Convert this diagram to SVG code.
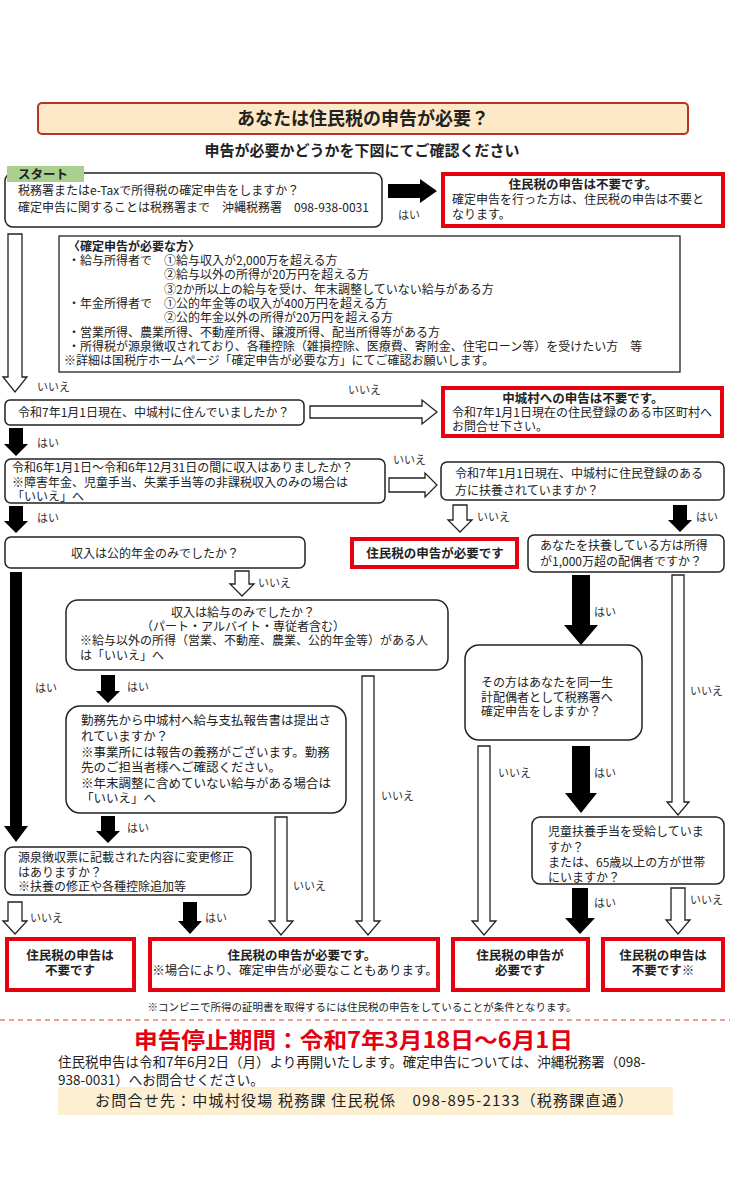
<svg xmlns="http://www.w3.org/2000/svg" width="730" height="1188" viewBox="0 0 730 1188">
<defs>
<style>
text{font-family:"Noto Sans CJK JP","Noto Sans",sans-serif;fill:#222;}
.t{font-size:12px;}
.t2{font-size:12.5px;}
.s{font-size:12px;}
.b{font-weight:bold;}
.c{text-anchor:middle;}
.lbl{font-size:11px;fill:#333;}
.q{fill:#fff;stroke:#222;stroke-width:1.5;}
.red{fill:#fff;stroke:#e60012;stroke-width:4;}
.wa{fill:#fff;stroke:#222;stroke-width:1.3;}
.ba{fill:#000;stroke:none;}
</style>
</defs>
<rect width="730" height="1188" fill="#fff"/>

<g id="title">
<rect x="38" y="103" width="650" height="31" rx="4" fill="#fde9c7" stroke="#b5342a" stroke-width="2"/>
<text x="363" y="125" class="c b" font-size="18">あなたは住民税の申告が必要？</text>
</g>
<g id="subtitle">
<text x="362" y="156" class="c b" font-size="15">申告が必要かどうかを下図にてご確認ください</text>
</g>

<g id="start">
<rect x="5" y="173" width="377" height="54" rx="8" class="q"/>
<rect x="7" y="166" width="77" height="16" fill="#a9d08e"/>
<text x="18" y="179" class="b" font-size="12.5">スタート</text>
<text x="18" y="195" class="t">税務署またはe-Taxで所得税の確定申告をしますか？</text>
<text x="18" y="212" class="t">確定申告に関することは税務署まで　沖縄税務署　098-938-0031</text>
</g>

<g id="r1">
<rect x="443" y="174" width="280" height="52" class="red"/>
<text x="583" y="189" class="c b t2">住民税の申告は不要です。</text>
<text x="452" y="204" class="t">確定申告を行った方は、住民税の申告は不要と</text>
<text x="452" y="219" class="t">なります。</text>
</g>

<g id="info">
<rect x="59" y="236" width="621" height="136" fill="#fff" stroke="#222" stroke-width="1.3"/>
<text x="68" y="251" class="s b">〈確定申告が必要な方〉</text>
<text x="68" y="265" class="s">・給与所得者で　①給与収入が2,000万を超える方</text>
<text x="164" y="279" class="s">②給与以外の所得が20万円を超える方</text>
<text x="164" y="294" class="s">③2か所以上の給与を受け、年末調整していない給与がある方</text>
<text x="68" y="308" class="s">・年金所得者で　①公的年金等の収入が400万円を超える方</text>
<text x="164" y="322" class="s">②公的年金以外の所得が20万円を超える方</text>
<text x="68" y="337" class="s">・営業所得、農業所得、不動産所得、譲渡所得、配当所得等がある方</text>
<text x="68" y="351" class="s">・所得税が源泉徴収されており、各種控除（雑損控除、医療費、寄附金、住宅ローン等）を受けたい方　等</text>
<text x="64" y="365" class="s">※詳細は国税庁ホームページ「確定申告が必要な方」にてご確認お願いします。</text>
</g>

<g id="q2">
<rect x="5" y="400" width="299" height="25" rx="5" class="q"/>
<text x="18" y="417" class="t">令和7年1月1日現在、中城村に住んでいましたか？</text>
</g>

<g id="r2">
<rect x="443" y="388" width="279" height="48" class="red"/>
<text x="583" y="403" class="c b t2">中城村への申告は不要です。</text>
<text x="452" y="417" class="t">令和7年1月1日現在の住民登録のある市区町村へ</text>
<text x="452" y="431" class="t">お問合せ下さい。</text>
</g>

<g id="q3">
<rect x="5" y="459" width="380" height="44" rx="6" class="q"/>
<text x="12" y="472" class="t">令和6年1月1日～令和6年12月31日の間に収入はありましたか？</text>
<text x="12" y="487" class="t">※障害年金、児童手当、失業手当等の非課税収入のみの場合は</text>
<text x="12" y="501" class="t">「いいえ」へ</text>
</g>

<g id="q4">
<rect x="441" y="462" width="283" height="38" rx="6" class="q"/>
<text x="455" y="478" class="t">令和7年1月1日現在、中城村に住民登録のある</text>
<text x="455" y="495" class="t">方に扶養されていますか？</text>
</g>

<g id="q5">
<rect x="5" y="537" width="300" height="31" rx="6" class="q"/>
<text x="155" y="558" class="c t">収入は公的年金のみでしたか？</text>
</g>

<g id="r3">
<rect x="352" y="539" width="165" height="28" class="red"/>
<text x="435" y="558" class="c b t2">住民税の申告が必要です</text>
</g>

<g id="q6">
<rect x="528" y="535" width="196" height="37" rx="6" class="q"/>
<text x="540" y="550" class="t">あなたを扶養している方は所得</text>
<text x="540" y="566" class="t">が1,000万超の配偶者ですか？</text>
</g>

<g id="q7">
<rect x="66" y="600" width="382" height="70" rx="12" class="q"/>
<text x="243" y="617" class="c t">収入は給与のみでしたか？</text>
<text x="243" y="631" class="c t">（パート・アルバイト・専従者含む）</text>
<text x="80" y="645" class="t">※給与以外の所得（営業、不動産、農業、公的年金等）がある人</text>
<text x="80" y="660" class="t">は「いいえ」へ</text>
</g>

<g id="q8">
<rect x="465" y="645" width="177" height="95" rx="14" class="q"/>
<text x="481" y="687" class="t">その方はあなたを同一生</text>
<text x="481" y="702" class="t">計配偶者として税務署へ</text>
<text x="481" y="716" class="t">確定申告をしますか？</text>
</g>

<g id="q9">
<rect x="66" y="706" width="280" height="107" rx="14" class="q"/>
<text x="81" y="725" class="t2">勤務先から中城村へ給与支払報告書は提出さ</text>
<text x="81" y="741" class="t2">れていますか？</text>
<text x="81" y="757" class="t2">※事業所には報告の義務がございます。勤務</text>
<text x="81" y="772" class="t2">先のご担当者様へご確認ください。</text>
<text x="81" y="788" class="t2">※年末調整に含めていない給与がある場合は</text>
<text x="81" y="803" class="t2">「いいえ」へ</text>
</g>

<g id="q10">
<rect x="5" y="847" width="246" height="48" rx="8" class="q"/>
<text x="18" y="862" class="t">源泉徴収票に記載された内容に変更修正</text>
<text x="18" y="877" class="t">はありますか？</text>
<text x="18" y="891" class="t">※扶養の修正や各種控除追加等</text>
</g>

<g id="q11">
<rect x="532" y="817" width="192" height="67" rx="8" class="q"/>
<text x="548" y="836" class="t">児童扶養手当を受給していま</text>
<text x="548" y="852" class="t">すか？</text>
<text x="548" y="867" class="t">または、65歳以上の方が世帯</text>
<text x="548" y="882" class="t">にいますか？</text>
</g>

<g id="r4">
<rect x="7" y="939" width="127" height="51" class="red"/>
<text x="70" y="960" class="c b t2">住民税の申告は</text>
<text x="70" y="975" class="c b t2">不要です</text>
</g>
<g id="r5">
<rect x="150" y="939" width="288" height="51" class="red"/>
<text x="302" y="960" class="c b t2">住民税の申告が必要です。</text>
<text x="295" y="975" class="c t2">※場合により、確定申告が必要なこともあります。</text>
</g>
<g id="r6">
<rect x="453" y="939" width="135" height="51" class="red"/>
<text x="520" y="960" class="c b t2">住民税の申告が</text>
<text x="520" y="975" class="c b t2">必要です</text>
</g>
<g id="r7">
<rect x="603" y="939" width="120" height="51" class="red"/>
<text x="663" y="960" class="c b t2">住民税の申告は</text>
<text x="663" y="975" class="c b t2">不要です※</text>
</g>

<g id="connectors">
<path class="ba" d="M388,184 H420 V179 L437,191 L420,203 V198 H388 Z"/>
<path class="wa" d="M310,406 H422 V400 L437,412 L422,424 V418 H310 Z"/>
<path class="wa" d="M389,478 H425 V473 L437,485 L425,497 V492 H389 Z"/>
<path class="wa" d="M8,234 H22 V377 H27 L15,392 L3,377 H8 Z"/>
<path class="ba" d="M9,428 H23 V444 H28 L16,456 L4,444 H9 Z"/>
<path class="ba" d="M9,506 H23 V521 H28 L16,533 L4,521 H9 Z"/>
<path class="wa" d="M453,505 H467 V520 H472 L460,532 L448,520 H453 Z"/>
<path class="ba" d="M673,505 H687 V520 H692 L680,532 L668,520 H673 Z"/>
<path class="ba" d="M10,572 H22 V826 H28 L16,842 L4,826 H10 Z"/>
<path class="wa" d="M235,571 H249 V584 H254 L242,596 L230,584 H235 Z"/>
<path class="ba" d="M572,575 H590 V625 H598 L581,645 L564,625 H572 Z"/>
<path class="wa" d="M672,575 H684 V802 H689 L678,815 L667,802 H672 Z"/>
<path class="ba" d="M101,675 H115 V691 H120 L108,703 L96,691 H101 Z"/>
<path class="wa" d="M362,676 H374 V921 H380 L368,935 L356,921 H362 Z"/>
<path class="ba" d="M101,816 H115 V831 H120 L108,843 L96,831 H101 Z"/>
<path class="wa" d="M275,817 H287 V921 H293 L281,935 L269,921 H275 Z"/>
<path class="wa" d="M478,746 H490 V921 H496 L484,935 L472,921 H478 Z"/>
<path class="ba" d="M572,746 H590 V793 H597 L581,813 L565,793 H572 Z"/>
<path class="wa" d="M8,902 H22 V921 H27 L15,934 L3,921 H8 Z"/>
<path class="ba" d="M183,902 H197 V921 H202 L190,934 L178,921 H183 Z"/>
<path class="ba" d="M572,888 H588 V918 H595 L580,934 L565,918 H572 Z"/>
<path class="wa" d="M671,888 H685 V920 H690 L678,934 L666,920 H671 Z"/>
<text x="398" y="219" class="lbl">はい</text>
<text x="37" y="391" class="lbl">いいえ</text>
<text x="348" y="394" class="lbl">いいえ</text>
<text x="37" y="447" class="lbl">はい</text>
<text x="393" y="464" class="lbl">いいえ</text>
<text x="37" y="522" class="lbl">はい</text>
<text x="477" y="521" class="lbl">いいえ</text>
<text x="696" y="521" class="lbl">はい</text>
<text x="258" y="587" class="lbl">いいえ</text>
<text x="594" y="616" class="lbl">はい</text>
<text x="35" y="692" class="lbl">はい</text>
<text x="127" y="691" class="lbl">はい</text>
<text x="690" y="695" class="lbl">いいえ</text>
<text x="498" y="777" class="lbl">いいえ</text>
<text x="594" y="777" class="lbl">はい</text>
<text x="381" y="800" class="lbl">いいえ</text>
<text x="127" y="832" class="lbl">はい</text>
<text x="293" y="890" class="lbl">いいえ</text>
<text x="690" y="904" class="lbl">いいえ</text>
<text x="594" y="907" class="lbl">はい</text>
<text x="30" y="922" class="lbl">いいえ</text>
<text x="205" y="922" class="lbl">はい</text>
</g>

<g id="footer">
<text x="362" y="1011" class="c" font-size="10.5" fill="#444">※コンビニで所得の証明書を取得するには住民税の申告をしていることが条件となります。</text>
<line x1="0" y1="1020" x2="730" y2="1020" stroke="#e53935" stroke-width="1.2" stroke-dasharray="5,4"/>
<text x="134" y="1048" class="b" font-size="22" textLength="439" lengthAdjust="spacingAndGlyphs" style="fill:#e60012">申告停止期間：令和7年3月18日～6月1日</text>
<text x="58" y="1067" font-size="13.5">住民税申告は令和7年6月2日（月）より再開いたします。確定申告については、沖縄税務署（098-</text>
<text x="58" y="1085" font-size="13.5">938-0031）へお問合せください。</text>
<rect x="58" y="1087" width="615" height="28" fill="#fdefd2"/>
<text x="95" y="1106" font-size="15" textLength="538" lengthAdjust="spacing">お問合せ先：中城村役場 税務課 住民税係　098-895-2133（税務課直通）</text>
</g>
</svg>
